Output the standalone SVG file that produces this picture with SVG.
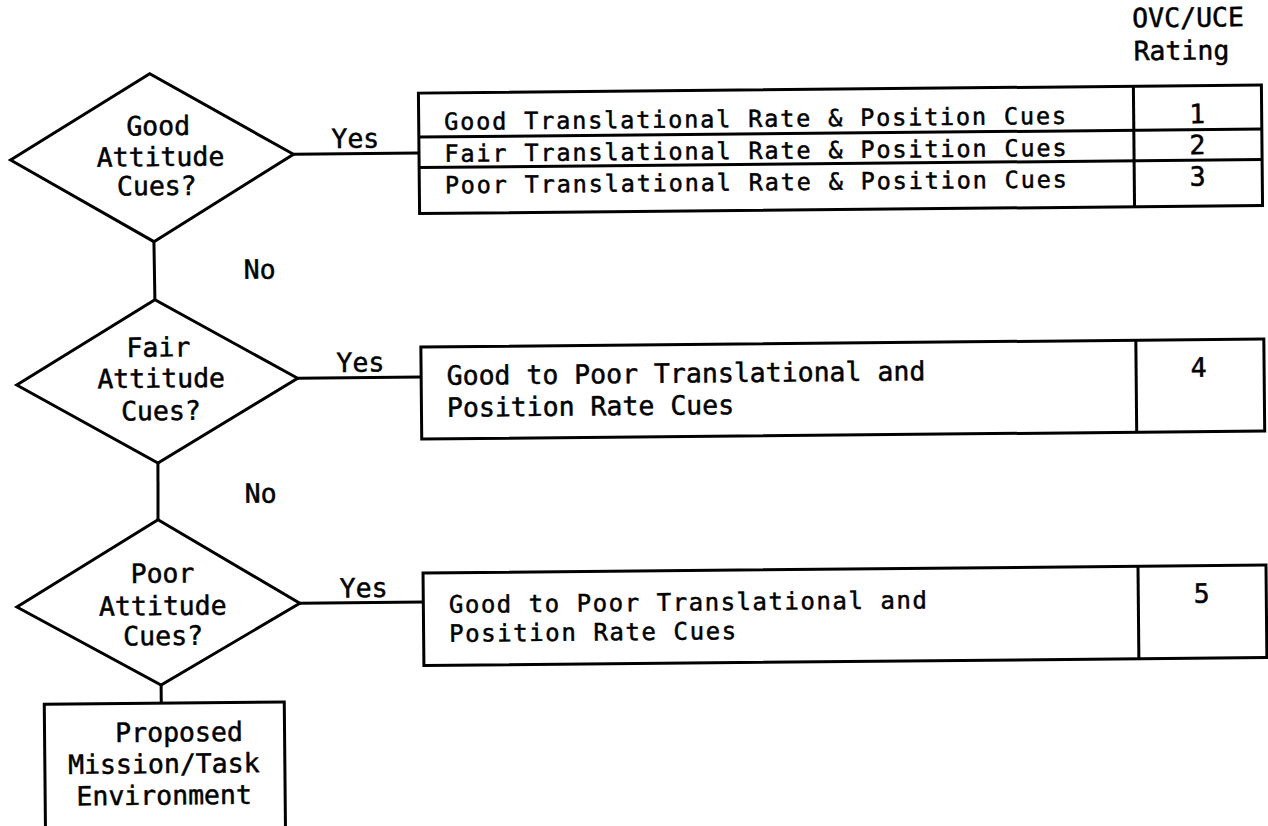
<svg xmlns="http://www.w3.org/2000/svg" width="1268" height="826" viewBox="0 0 1268 826">
<style>
.s{fill:none;stroke:#000;stroke-width:3;stroke-linejoin:miter}
.b{fill:#fff;stroke:#000;stroke-width:3}
.t{font-family:"DejaVu Sans Mono","Liberation Mono",monospace;font-size:26.5px;fill:#000;stroke:#000;stroke-width:0.5}
.r{font-size:24px}
.c{text-anchor:middle}
</style>
<rect width="1268" height="826" fill="#fff"/>
<g transform="rotate(-0.55 640 413)">
<g id="connectors">
<line class="s" x1="296" y1="151" x2="421.5" y2="151"/>
<line class="s" x1="298" y1="375" x2="421.5" y2="375"/>
<line class="s" x1="298" y1="600" x2="421.5" y2="600"/>
<line class="s" x1="155.6" y1="237" x2="156" y2="295"/>
<line class="s" x1="157.5" y1="458.5" x2="157" y2="515"/>
<line class="s" x1="158.5" y1="680.5" x2="158.5" y2="698.5"/>
<text class="t" x="334" y="145">Yes</text>
<text class="t" x="337" y="369">Yes</text>
<text class="t" x="338" y="594.5">Yes</text>
<text class="t" x="245" y="275">No</text>
<text class="t" x="244" y="499">No</text>
</g>
<g id="header">
<text class="t" x="1136" y="32">OVC/UCE</text>
<text class="t" x="1137" y="65">Rating</text>
</g>
<g id="d1">
<polygon class="b" points="13,154 153,69 296,151 155.6,237"/>
<text class="t c" x="161" y="130.5">Good</text>
<text class="t c" x="163" y="161.5">Attitude</text>
<text class="t c" x="159" y="190.5">Cues?</text>
</g>
<g id="d2">
<polygon class="b" points="17,379 156,295 298,375 157.5,458.5"/>
<text class="t c" x="159" y="352">Fair</text>
<text class="t c" x="161.5" y="383">Attitude</text>
<text class="t c" x="161" y="415.5">Cues?</text>
</g>
<g id="d3">
<polygon class="b" points="15,601 157,515 298,600 158.5,680.5"/>
<text class="t c" x="161" y="578">Poor</text>
<text class="t c" x="161" y="610.5">Attitude</text>
<text class="t c" x="161" y="640.5">Cues?</text>
</g>
<g id="box1">
<rect class="b" x="421.5" y="91" width="843" height="120.5"/>
<line class="s" x1="421.5" y1="135" x2="1264.5" y2="135"/>
<line class="s" x1="421.5" y1="165.5" x2="1264.5" y2="165.5"/>
<line class="s" x1="1136.5" y1="91" x2="1136.5" y2="211.5"/>
<text class="t r" x="447" y="128" textLength="622" lengthAdjust="spacing" style="font-size:23.5px">Good Translational Rate &amp; Position Cues</text>
<text class="t r" x="447" y="160" textLength="622" lengthAdjust="spacing" style="font-size:23.5px">Fair Translational Rate &amp; Position Cues</text>
<text class="t r" x="447" y="191.5" textLength="622" lengthAdjust="spacing" style="font-size:23.5px">Poor Translational Rate &amp; Position Cues</text>
<text class="t c" x="1200" y="128.5">1</text>
<text class="t c" x="1200" y="159.5">2</text>
<text class="t c" x="1200" y="191">3</text>
</g>
<g id="box2">
<rect class="b" x="421.5" y="345" width="843" height="92"/>
<line class="s" x1="1136.5" y1="345" x2="1136.5" y2="437"/>
<text class="t" x="447" y="383">Good to Poor Translational and</text>
<text class="t" x="447" y="415">Position Rate Cues</text>
<text class="t c" x="1199" y="382">4</text>
</g>
<g id="box3">
<rect class="b" x="421.5" y="571" width="843" height="92.5"/>
<line class="s" x1="1136.5" y1="571" x2="1136.5" y2="663.5"/>
<text class="t r" x="447" y="611" textLength="478" lengthAdjust="spacing">Good to Poor Translational and</text>
<text class="t r" x="447" y="640" textLength="287" lengthAdjust="spacing">Position Rate Cues</text>
<text class="t c" x="1200" y="608">5</text>
</g>
<g id="env">
<rect class="b" x="41.5" y="698.5" width="240" height="200"/>
<text class="t c" x="176" y="737">Proposed</text>
<text class="t c" x="160.5" y="768.5">Mission/Task</text>
<text class="t c" x="160.5" y="800">Environment</text>
</g>
</g>
</svg>
